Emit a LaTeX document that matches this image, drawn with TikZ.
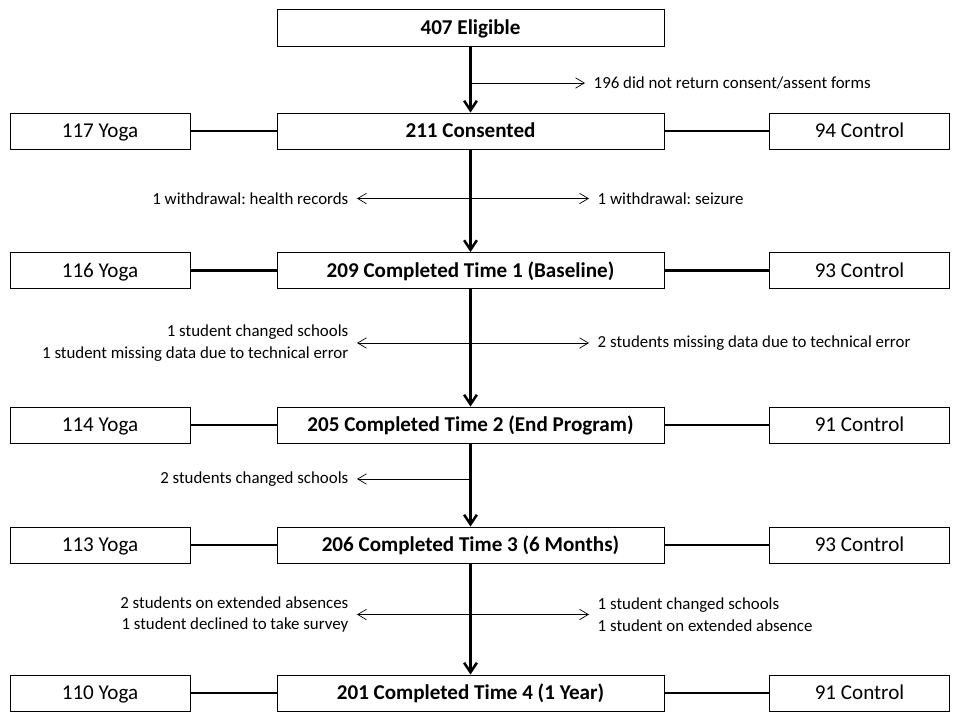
\documentclass[tikz,border=0pt]{standalone}
\usepackage{fontspec}
\setmainfont{Carlito}
\usetikzlibrary{arrows.meta,positioning,calc}
\frenchspacing
\tikzset{
  stagebox/.style={draw, line width=0.6pt, fill=white, minimum width=9.675cm, minimum height=0.9cm, inner sep=0pt, text height=12.7pt, text depth=3pt, font=\fontsize{15}{18}\selectfont\bfseries},
  armbox/.style={draw, line width=0.6pt, fill=white, minimum width=4.5cm, minimum height=0.9cm, inner sep=0pt, text height=12.7pt, text depth=3pt, font=\fontsize{15}{18}\selectfont},
  note/.style={font=\fontsize{12}{15.6}\selectfont, inner xsep=6pt, inner ysep=0pt},
  flow/.style={line width=1.8pt, -{Straight Barb[length=2.4mm,width=3.2mm]}},
  link/.style={line width=2pt},
  side/.style={line width=0.5pt, -{Straight Barb[length=2.2mm,width=2.6mm]}},
  twoside/.style={line width=0.5pt, {Straight Barb[length=2.2mm,width=2.6mm]}-{Straight Barb[length=2.2mm,width=2.6mm]}},
}
\begin{document}
\begin{tikzpicture}[x=0.025cm,y=-0.025cm]
\useasboundingbox (0,0) rectangle (954,711);
% stages
\node[stagebox, minimum height=0.925cm] (elig) at (470.5,27.5) {407 Eligible};
\node[stagebox] (cons) at (470.5,131) {211 Consented};
\node[stagebox] (t1) at (470.5,270.5) {209 Completed Time 1 (Baseline)};
\node[stagebox] (t2) at (470.5,425) {205 Completed Time 2 (End Program)};
\node[stagebox] (t3) at (470.5,545) {206 Completed Time 3 (6 Months)};
\node[stagebox] (t4) at (470.5,693) {201 Completed Time 4 (1 Year)};
% yoga / control
\node[armbox] (y0) at (100,131) {117 Yoga};
\node[armbox] (y1) at (100,270.5) {116 Yoga};
\node[armbox] (y2) at (100,425) {114 Yoga};
\node[armbox] (y3) at (100,545) {113 Yoga};
\node[armbox] (y4) at (100,693) {110 Yoga};
\node[armbox] (c0) at (859.5,131) {94 Control};
\node[armbox] (c1) at (859.5,270.5) {93 Control};
\node[armbox] (c2) at (859.5,425) {91 Control};
\node[armbox] (c3) at (859.5,545) {93 Control};
\node[armbox] (c4) at (859.5,693) {91 Control};
% losses
\node[note, anchor=west] (r0) at (585,83) {196 did not return consent/assent forms};
\node[note, anchor=east] (l1) at (357,198.5) {1 withdrawal: health records};
\node[note, anchor=west] (r1) at (589,198.5) {1 withdrawal: seizure};
\node[note, anchor=east, align=right] (l2) at (357,343) {1 student changed schools\\1 student missing data due to technical error};
\node[note, anchor=west] (r2) at (589,343) {2 students missing data due to technical error};
\node[note, anchor=east] (l3) at (357,479) {2 students changed schools};
\node[note, anchor=east, align=right] (l4) at (357,614.5) {2 students on extended absences\\1 student declined to take survey};
\node[note, anchor=west, align=left] (r4) at (589,614.5) {1 student changed schools\\1 student on extended absence};
\draw[flow] (elig)--(cons);
\draw[flow] (cons)--(t1);
\draw[flow] (t1)--(t2);
\draw[flow] (t2)--(t3);
\draw[flow] (t3)--(t4);
\draw[side] (elig.south |- r0.west)--(r0.west);
\draw[twoside] (l1.east)--(r1.west);
\draw[twoside] (l2.east)--(r2.west);
\draw[side] (t2.south |- l3.east)--(l3.east);
\draw[twoside] (l4.east)--(r4.west);
\foreach \i/\s in {0/cons,1/t1,2/t2,3/t3,4/t4}{
  \draw[link] (y\i)--(\s);
  \draw[link] (\s)--(c\i);
}
\end{tikzpicture}
\end{document}
